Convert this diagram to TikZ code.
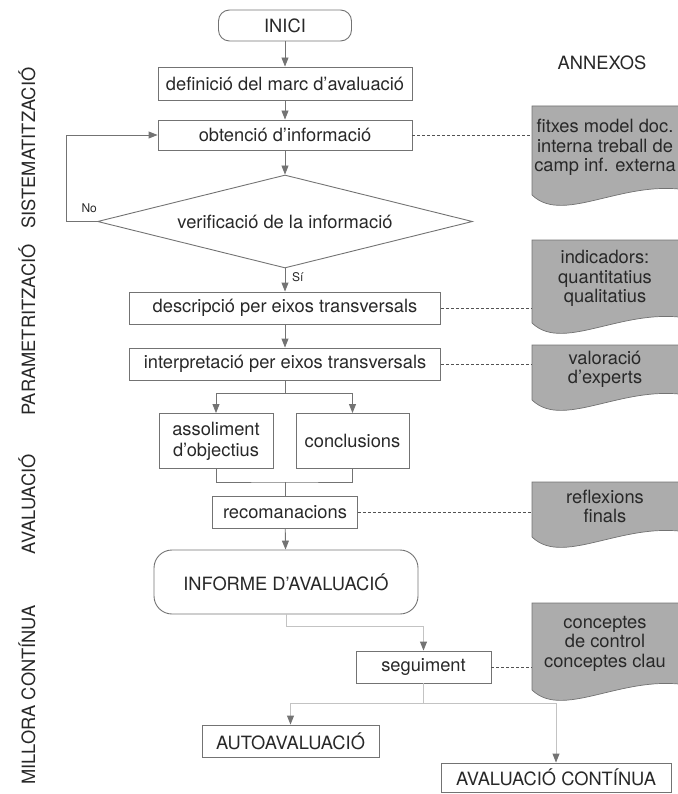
\documentclass[tikz,border=0pt]{standalone}
\usepackage{fontspec}
\setmainfont{TeX Gyre Heros}
\usetikzlibrary{arrows.meta,shapes.geometric}

\definecolor{lnclr}{RGB}{115,115,115}
\definecolor{txtclr}{RGB}{40,40,40}
\definecolor{docclr}{RGB}{172,172,172}
\definecolor{litclr}{RGB}{195,195,195}
\newcommand{\mainfnt}{\fontsize{18.3}{19.5}\selectfont}

\begin{document}
\begin{tikzpicture}[x=1pt, y=1pt,
    box/.style={draw=lnclr, line width=0.9pt, inner sep=0pt, text=txtclr, font=\mainfnt},
    ln/.style={draw=lnclr, line width=0.9pt},
    arr/.style={ln, -{Triangle[length=9pt, width=7pt]}},
    litln/.style={draw=litclr, line width=0.9pt},
    litarr/.style={litln, -{Triangle[length=9pt, width=7pt, color=lnclr]}},
    dashln/.style={draw=txtclr!80, line width=0.8pt, dash pattern=on 3pt off 2pt},
    side/.style={rotate=90, text=txtclr, font=\mainfnt, inner sep=0pt},
    small/.style={text=txtclr, font=\fontsize{12}{14}\selectfont, inner sep=0pt},
    doctxt/.style={text=txtclr, font=\mainfnt, align=center, inner sep=0pt},
    docshape/.style={fill=docclr, draw=lnclr, line width=0.7pt}
  ]
  \useasboundingbox (0,0) rectangle (677,-794);

  % main flow
  \node[box, rounded corners=11pt, minimum width=133pt, minimum height=31pt] (inici) at (285,-25.5) {INICI};
  \node[box, minimum width=254pt, minimum height=33pt] (marc) at (285,-83.5) {definició del marc d’avaluació};
  \node[box, minimum width=254pt, minimum height=30pt] (obtencio) at (285,-135) {obtenció d’informació};
  \node[box, diamond, aspect=4, minimum width=375pt, minimum height=93pt] (verif) at (285,-221.5) {verificació de la informació};
  \node[box, minimum width=311pt, minimum height=32pt] (desc) at (285,-308) {descripció per eixos transversals};
  \node[box, minimum width=311pt, minimum height=32pt] (interp) at (285,-364) {interpretació per eixos transversals};
  \node[box, minimum width=114pt, minimum height=55pt, align=center, font=\fontsize{18.3}{21}\selectfont] (assol) at (216,-441) {assoliment\\d’objectius};
  \node[box, minimum width=113pt, minimum height=55pt] (concl) at (352.5,-441) {conclusions};
  \node[box, minimum width=145pt, minimum height=32pt] (recom) at (285,-512) {recomanacions};
  \node[box, rounded corners=18pt, minimum width=264pt, minimum height=64pt] (informe) at (286,-582) {INFORME D’AVALUACIÓ};
  \node[box, minimum width=135pt, minimum height=32pt] (segui) at (423.5,-667) {seguiment};
  \node[box, minimum width=177pt, minimum height=32pt] (auto) at (290.5,-741) {AUTOAVALUACIÓ};
  \node[box, minimum width=230pt, minimum height=29pt] (continua) at (556,-777.5) {AVALUACIÓ CONTÍNUA};

  % yes / no labels
  \node[small, anchor=south east] (no) at ([yshift=9pt]verif.west) {No};
  \node[small, anchor=west] (si) at (292,-277) {Sí};

  % phase labels
  \node[side] (sist) at (27,-148) {SISTEMATITZACIÓ};
  \node[side] (param) at (27,-330) {PARAMETRITZACIÓ};
  \node[side] (aval) at (27,-504) {AVALUACIÓ};
  \node[side] (mill) at (27,-695) {MILLORA CONTÍNUA};

  % annexes
  \node[doctxt] (annexos) at (602,-63) {ANNEXOS};
  \foreach \nm/\tp/\bt/\txt in {
      fitxes/-106/-195/{fitxes model doc.\\interna treball de\\camp inf. externa},
      indic/-240/-323/{indicadors:\\quantitatius\\qualitatius},
      valor/-345/-400/{valoració\\d’experts},
      reflex/-482/-537/{reflexions\\finals},
      concep/-603/-690/{conceptes\\de control\\conceptes clau}}{
    \filldraw[docshape] (690,\bt+4) -- (690,\tp) -- (532,\tp) -- (532,\bt)
        .. controls (565,\bt-32) and (630,\bt+22) .. (700,\bt+2);
    \node[doctxt] (\nm) at (605,{(\tp+\bt)/2+3}) {\txt};
    \coordinate (\nm-l) at (532,{(\tp+\bt)/2});
  }

  % connectors
  \draw[arr] (inici) -- (marc);
  \draw[arr] (marc) -- (obtencio);
  \draw[arr] (obtencio) -- (verif);
  \draw[arr] (verif.west) -- ++(-31,0) |- (obtencio.west);
  \draw[arr] (verif.south) -- (desc.north);
  \draw[arr] (desc) -- (interp);
  \draw[ln] (interp.south) -- ++(0,-13) coordinate (split);
  \draw[arr] (split) -| (assol.north);
  \draw[arr] (split) -| (concl.north);
  \coordinate (merge) at (285,-482);
  \draw[ln] (assol.south) |- (merge) -| (concl.south);
  \draw[ln] (merge) -- (recom.north);
  \draw[arr] (recom) -- (informe);
  \draw[litarr] (informe.south) -- ++(0,-12) -| (segui.north);
  \draw[litln] (segui.south) -- ++(0,-20) coordinate (fork);
  \draw[litarr] (fork) -| (auto.north);
  \draw[litarr] (fork) -| (continua.north);

  % links to annexes
  \draw[dashln] (obtencio.east) -- (obtencio.east -| fitxes-l);
  \draw[dashln] (desc.east) -- (desc.east -| indic-l);
  \draw[dashln] (interp.east) -- (interp.east -| valor-l);
  \draw[dashln] (recom.east) -- (recom.east -| reflex-l);
  \draw[dashln] (segui.east) -- (segui.east -| concep-l);
\end{tikzpicture}
\end{document}
